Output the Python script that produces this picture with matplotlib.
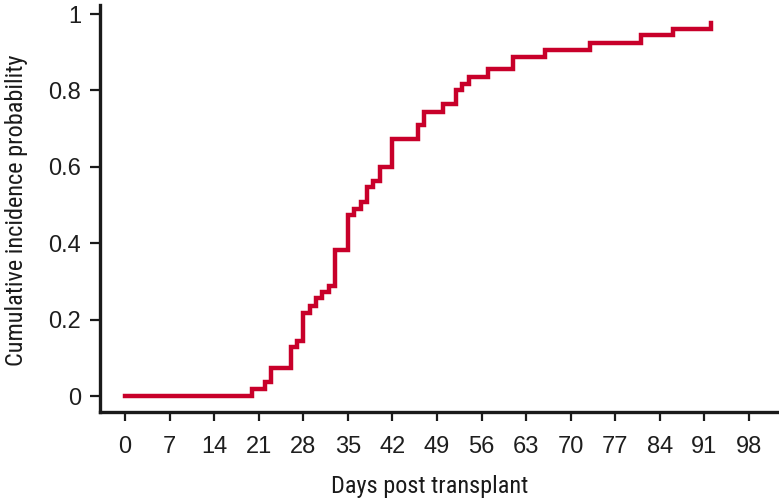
import matplotlib
matplotlib.use('Agg')
import matplotlib.pyplot as plt

# step times (days) and cumulative incidence after each step
days = [0, 20, 22, 23, 26, 27, 28, 29, 30, 31, 32, 33, 35, 36, 37, 38, 39, 40,
        42, 46, 47, 50, 52, 53, 54, 57, 61, 66, 73, 81, 86, 92]
incidence = [0, 0.020, 0.037, 0.074, 0.129, 0.144, 0.219, 0.236, 0.256, 0.273,
             0.288, 0.382, 0.474, 0.491, 0.509, 0.547, 0.564, 0.600, 0.673,
             0.711, 0.744, 0.764, 0.800, 0.818, 0.834, 0.855, 0.888, 0.907,
             0.925, 0.945, 0.962, 0.977]

xticks = list(range(0, 99, 7))
yticks = [0, 0.2, 0.4, 0.6, 0.8, 1]
ytick_labels = ['0', '0.2', '0.4', '0.6', '0.8', '1']

plt.rcParams['font.family'] = ['Liberation Sans', 'DejaVu Sans']
plt.rcParams['font.size'] = 17
# condensed face for the axis titles
label_font = dict(family=['Roboto Condensed', 'Archivo Narrow', 'DejaVu Sans'],
                  size=17.5, color='#1a1a1a')

fig = plt.figure(figsize=(7.79, 5.04), dpi=100)
ax = fig.add_axes([100 / 779, 92 / 504, 679 / 779, 407 / 504])

ax.plot(days, incidence, drawstyle='steps-post', color='#c8002a', lw=3.2,
        solid_joinstyle='miter')

ax.set_xlim(-3.92, 102.7)
ax.set_ylim(-0.041, 1.0236)
ax.set_xticks(xticks)
ax.set_yticks(yticks)
ax.set_yticklabels(ytick_labels)

for side in ['top', 'right']:
    ax.spines[side].set_visible(False)
for side in ['left', 'bottom']:
    ax.spines[side].set_linewidth(2.4)
    ax.spines[side].set_color('#1a1a1a')

ax.tick_params(axis='x', direction='out', length=6.5, width=1.6, pad=10.5,
               colors='#1a1a1a', labelcolor='#1e1e1e')
ax.tick_params(axis='y', direction='out', length=7, width=1.6, pad=6.5,
               colors='#1a1a1a', labelcolor='#1e1e1e')

ax.set_xlabel('Days post transplant', **label_font)
ax.xaxis.set_label_coords((430 - 100) / 679, (412 - 475) / 407)
ax.set_ylabel('Cumulative incidence probability', **label_font)
ax.yaxis.set_label_coords(-72 / 679, (412 - 210) / 407)

fig.savefig('out.png', dpi=100)
